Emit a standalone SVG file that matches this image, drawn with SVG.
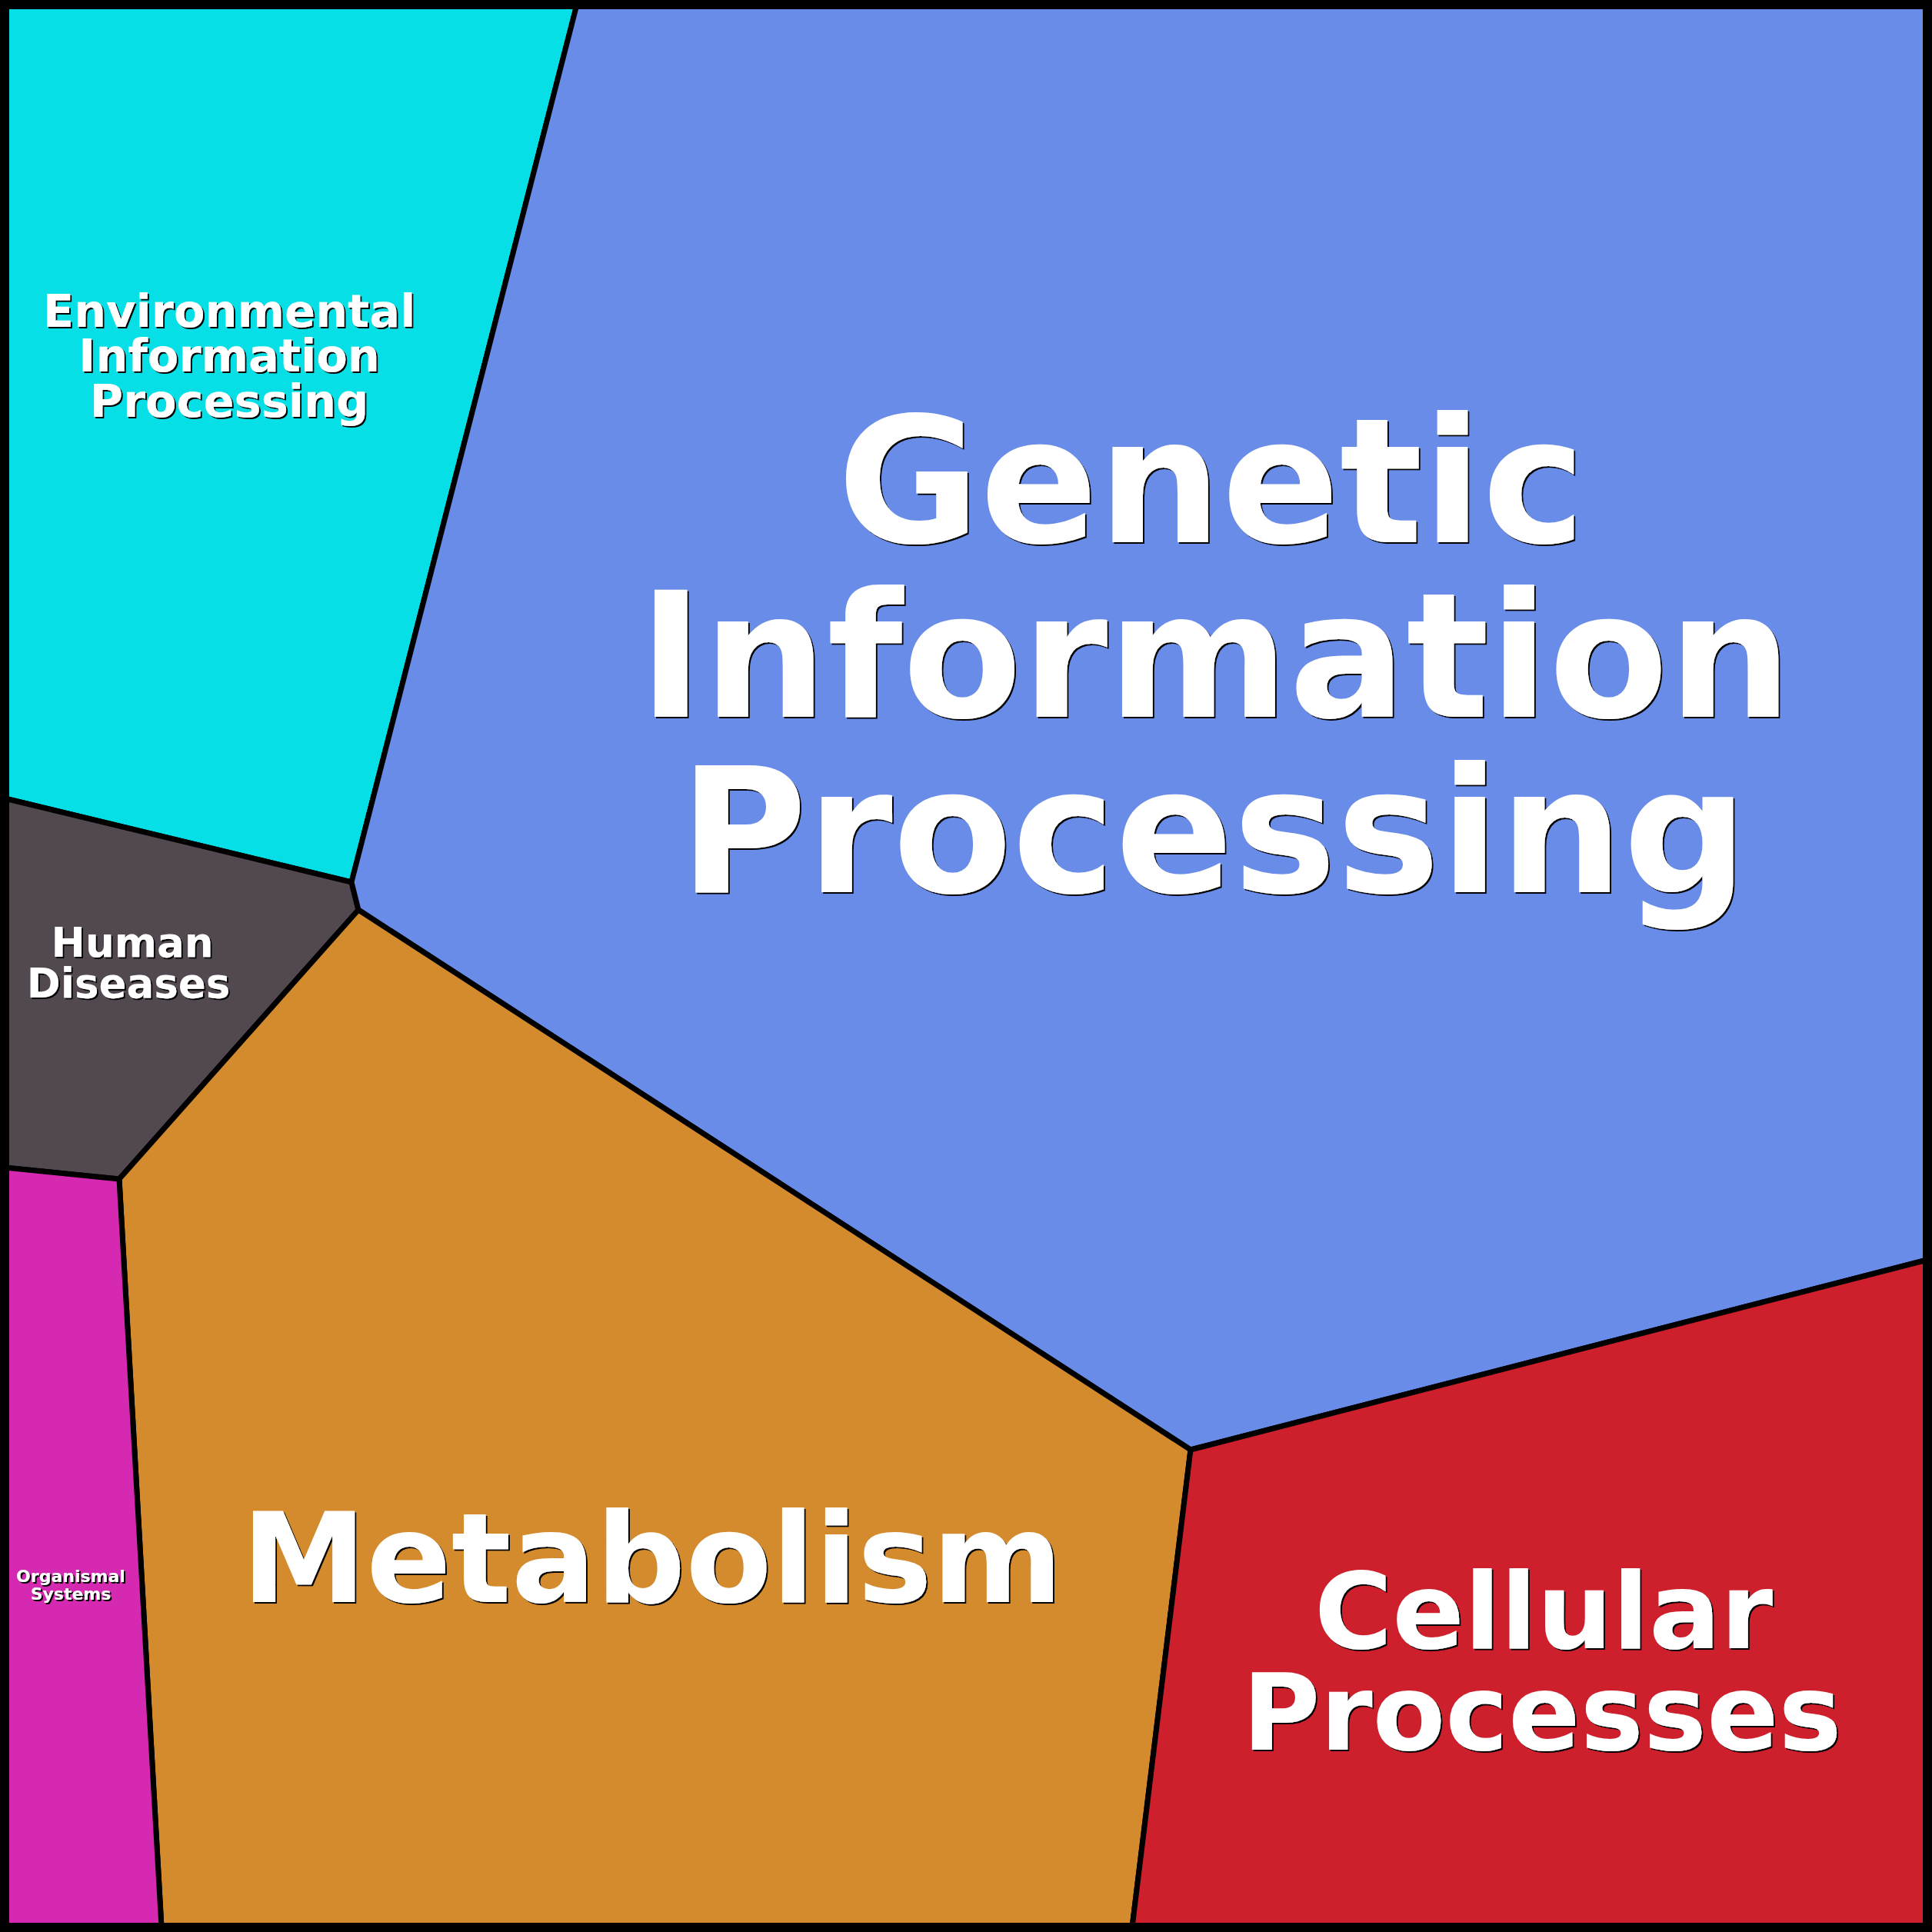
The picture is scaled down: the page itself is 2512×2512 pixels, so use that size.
<svg xmlns="http://www.w3.org/2000/svg" width="2512" height="2512" viewBox="0 0 2512 2512">
<style>
.c{stroke:#000;stroke-width:7;stroke-linejoin:round}
text{font-family:"DejaVu Sans",sans-serif;font-weight:bold;text-anchor:middle;fill:#fff;filter:url(#sh)}
</style>
<defs><filter id="sh" x="-10%" y="-10%" width="120%" height="130%"><feDropShadow dx="2" dy="2" stdDeviation="0.6" flood-color="#000" flood-opacity="1"/></filter></defs>
<rect width="2512" height="2512" fill="#000"/>
<g id="eip"><polygon class="c" fill="#05dfe5" points="6,6 750,6 457,1147 6,1038"/>
<g font-size="59"><text x="298" y="425">Environmental</text><text x="298" y="483">Information</text><text x="298" y="542">Processing</text></g></g>
<g id="hd"><polygon class="c" fill="#524850" points="6,1038 457,1147 466,1183 155,1533 6,1518"/>
<g font-size="53"><text x="172" y="1244">Human</text><text x="167" y="1297">Diseases</text></g></g>
<g id="gip"><polygon class="c" fill="#688ce8" points="750,6 2506,6 2506,1638 1548,1885 466,1183 457,1147"/>
<g font-size="226"><text x="1575" y="705">Genetic</text><text x="1580" y="932">Information</text><text x="1578" y="1160">Processing</text></g></g>
<g id="met"><polygon class="c" fill="#d48b2e" points="466,1183 1548,1885 1472,2506 210,2506 155,1533"/>
<text font-size="163" x="848" y="2083">Metabolism</text></g>
<g id="cp"><polygon class="c" fill="#ce202c" points="1548,1885 2506,1638 2506,2506 1472,2506"/>
<g font-size="138"><text x="2007" y="2143">Cellular</text><text x="2005" y="2275">Processes</text></g></g>
<g id="os"><polygon class="c" fill="#d629b2" points="6,1518 155,1533 210,2506 6,2506"/>
<g font-size="22"><text x="92" y="2057">Organismal</text><text x="92" y="2080">Systems</text></g></g>
<g id="connectors"/>
<rect x="6" y="6" width="2500" height="2500" fill="none" stroke="#000" stroke-width="12"/>
</svg>
